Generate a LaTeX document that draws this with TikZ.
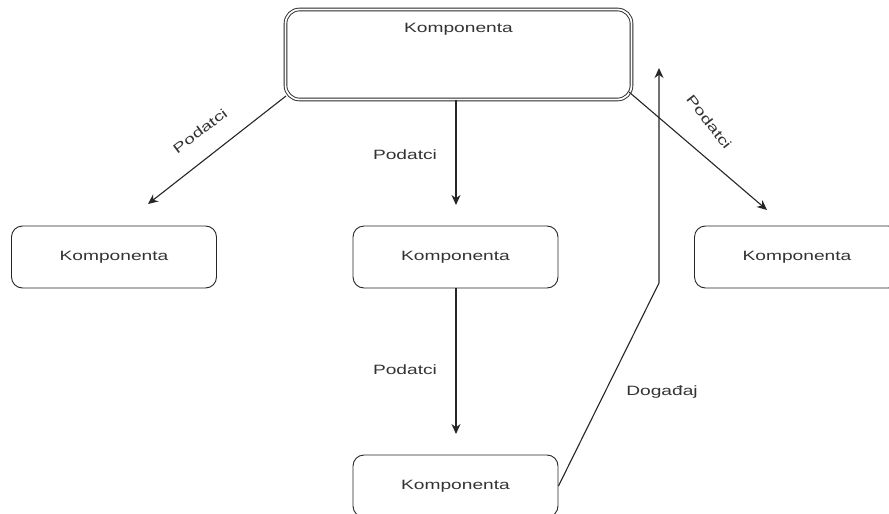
\documentclass[tikz,border=0pt]{standalone}
\usepackage{fontspec}
\setmainfont{Liberation Sans}[FakeStretch=1.42]
\usetikzlibrary{arrows.meta}
\begin{document}
\begin{tikzpicture}[x=1pt,y=-1pt,
  compbox/.style={draw=black!85, rounded corners=11pt, minimum width=205pt, minimum height=62pt, inner sep=0pt, line width=0.9pt, font=\fontsize{13.5}{15}\selectfont, text=black!80},
  lbl/.style={font=\fontsize{13.5}{15}\selectfont, text=black!80, inner sep=0pt},
  conn/.style={draw=black!85, line width=1.1pt, -{Stealth[length=10pt,width=9pt]}}]
\clip (0,0) rectangle (889,514);
\fill[white] (0,0) rectangle (889,514);
% top box (double border)
\node[compbox, double, double distance=1.8pt, minimum width=346pt, minimum height=90pt, rounded corners=14pt,
  label={[lbl, anchor=north, yshift=-14pt]north:Komponenta}] (top) at (458.5,54.5) {};
\node[compbox] (left) at (114,257) {Komponenta};
\node[compbox] (mid) at (455.5,257) {Komponenta};
\node[compbox] (right) at (797,257) {Komponenta};
\node[compbox] (bot) at (455.5,486) {Komponenta};
% free ends
\coordinate (lend) at (148,204);
\coordinate (mend) at (456,205);
\coordinate (rend) at (767,210);
\coordinate (bend) at (456,434);
\coordinate (ebend) at (659,283);
\coordinate (eend) at (659,68);
\path (top.south west) ++(1,-4) coordinate (ls);
\path (top.south east) ++(-3,-8) coordinate (rs);
% connectors
\draw[conn] (ls) -- (lend);
\draw[conn] (top.south -| mend) -- (mend);
\draw[conn] (rs) -- (rend);
\draw[conn] (mid.south -| bend) -- (bend);
\draw[conn] (bot.east) -- (ebend) -- (eend);
% labels
\node[lbl, rotate=37] at (200,131) {Podatci};
\node[lbl] at (405,155) {Podatci};
\node[lbl, rotate=-52] at (709,122) {Podatci};
\node[lbl] at (405,370) {Podatci};
\node[lbl] at (662,392) {Događaj};
\end{tikzpicture}
\end{document}
